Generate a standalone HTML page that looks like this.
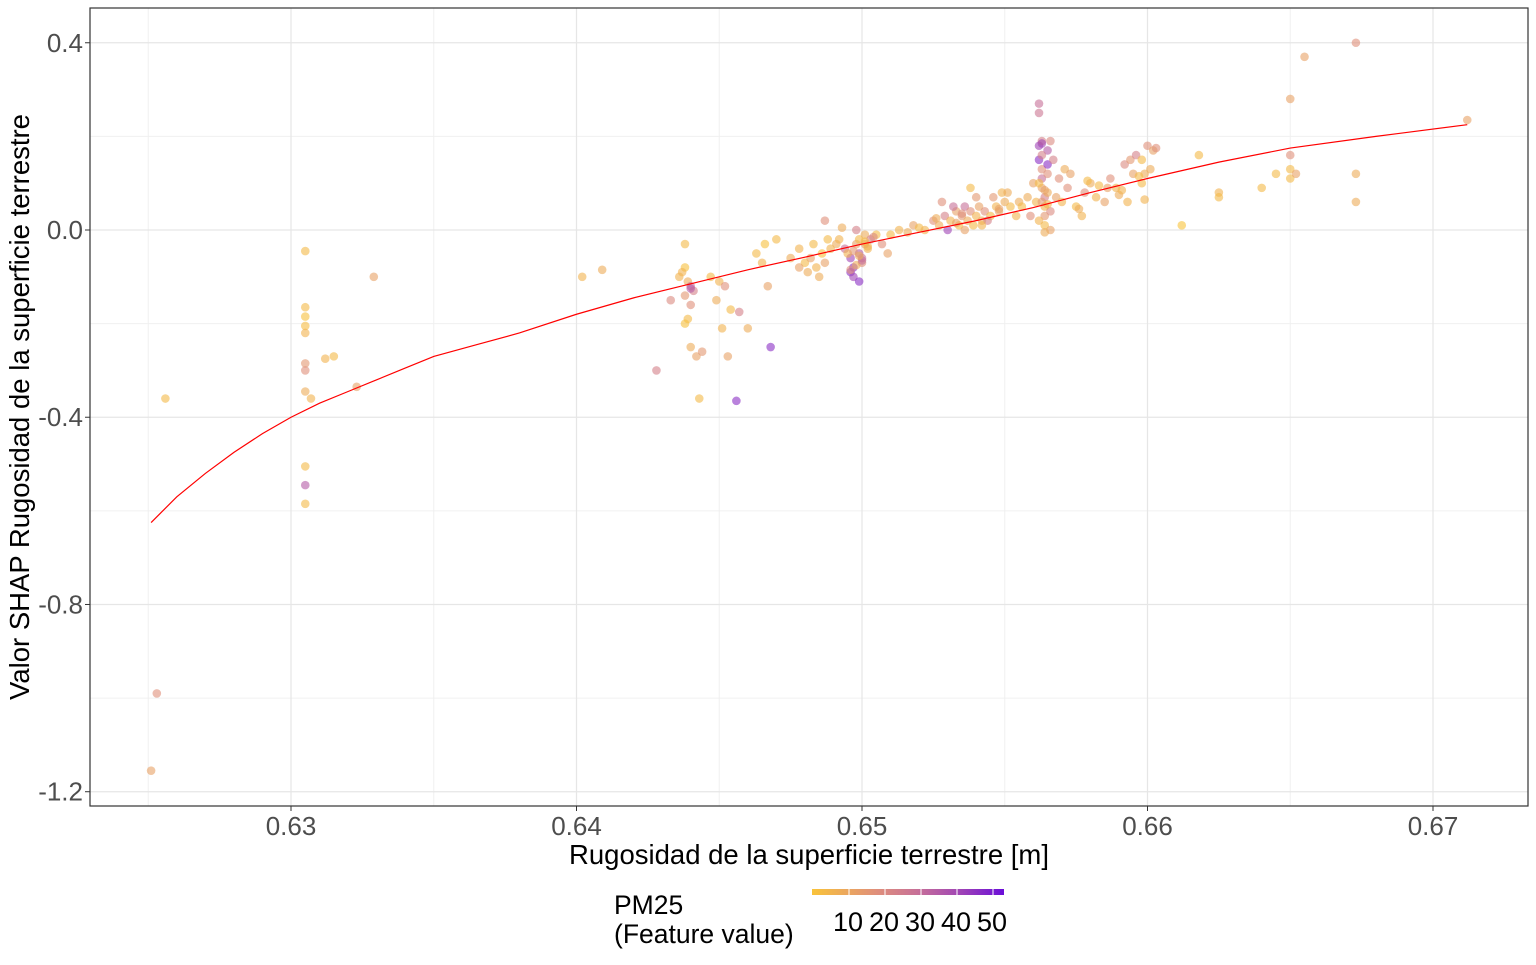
<!DOCTYPE html>
<html><head><meta charset="utf-8"><style>
body{margin:0;background:#fff;font-family:"Liberation Sans",sans-serif}
svg text{font-family:"Liberation Sans",sans-serif}
</style></head><body>
<svg id="c" width="1536" height="960" xmlns="http://www.w3.org/2000/svg"></svg>
<script>
const xTicks=[0.63,0.64,0.65,0.66,0.67];
const yTicks=[0.4,0.0,-0.4,-0.8,-1.2];
const yTickLabels=["0.4","0.0","-0.4","-0.8","-1.2"];
const legendTicks=[10,20,30,40,50];
const ptX=[
0.6251,0.6253,0.6256,
0.6305,0.6305,0.6305,0.6305,0.6305,0.6305,0.6305,0.6305,0.6305,0.6305,0.6305,
0.6312,0.6315,0.6307,0.6323,0.6329,0.6402,0.6409,
0.6438,0.6438,0.6437,0.6439,0.6440,0.6441,0.6438,0.6440,0.6439,0.6438,0.6440,0.6442,0.6443,0.6440,0.6428,0.6433,0.6436,0.6444,
0.6447,0.6450,0.6452,0.6449,0.6454,0.6451,0.6453,0.6456,0.6457,0.6468,0.6460,
0.6463,0.6465,0.6466,0.6467,0.6470,0.6475,0.6478,0.6480,0.6481,0.6482,0.6483,0.6484,0.6485,0.6486,0.6487,0.6488,0.6489,0.6478,0.6491,0.6487,
0.6492,0.6494,0.6496,0.6497,0.6498,0.6499,0.6500,0.6501,0.6502,0.6496,
0.6498,0.6499,0.6497,0.6500,0.6501,0.6495,0.6498,0.6503,0.6505,0.6507,
0.6509,0.6499,0.6497,0.6502,0.6504,0.6493,0.6500,0.6496,0.6499,0.6501,
0.6510,0.6513,0.6516,0.6518,0.6520,0.6522,0.6525,0.6527,0.6529,0.6531,
0.6533,0.6534,0.6535,0.6536,0.6537,0.6538,0.6539,0.6540,0.6541,0.6542,
0.6543,0.6545,0.6547,0.6548,0.6550,0.6552,0.6554,0.6555,0.6530,0.6532,
0.6536,0.6540,0.6544,0.6528,0.6538,0.6549,0.6526,0.6533,0.6542,0.6546,
0.6551,0.6535,0.6548,
0.6556,0.6558,0.6559,0.6560,0.6561,0.6562,0.6562,0.6562,0.6562,0.6563,
0.6563,0.6563,0.6563,0.6564,0.6564,0.6564,0.6564,0.6565,0.6565,0.6565,
0.6566,0.6566,0.6562,0.6563,0.6564,0.6565,0.6563,0.6564,0.6562,0.6566,
0.6567,0.6568,0.6569,0.6570,0.6571,0.6572,0.6563,0.6565,
0.6573,0.6575,0.6577,0.6578,0.6580,0.6582,0.6583,0.6585,0.6587,0.6589,
0.6590,0.6592,0.6594,0.6595,0.6596,0.6598,0.6599,0.6600,0.6601,0.6602,
0.6598,0.6591,0.6576,0.6579,0.6586,0.6593,0.6599,0.6597,0.6603,
0.6612,0.6618,0.6625,0.6625,0.6640,0.6645,0.6650,0.6650,0.6650,0.6650,0.6652,0.6655,0.6673,0.6673,0.6673,0.6712];
const ptY=[
-1.155,-0.99,-0.36,
-0.045,-0.165,-0.185,-0.205,-0.22,-0.285,-0.30,-0.345,-0.505,-0.545,-0.585,
-0.275,-0.27,-0.36,-0.335,-0.10,-0.10,-0.085,
-0.03,-0.08,-0.09,-0.11,-0.12,-0.13,-0.14,-0.16,-0.19,-0.20,-0.25,-0.27,-0.36,-0.125,-0.30,-0.15,-0.10,-0.26,
-0.10,-0.11,-0.12,-0.15,-0.17,-0.21,-0.27,-0.365,-0.175,-0.25,-0.21,
-0.05,-0.07,-0.03,-0.12,-0.02,-0.06,-0.04,-0.07,-0.09,-0.06,-0.03,-0.08,-0.10,-0.05,-0.07,-0.02,-0.04,-0.08,-0.03,0.02,
-0.02,-0.04,-0.06,-0.08,-0.03,-0.05,-0.07,-0.01,-0.04,-0.09,
0.0,-0.02,-0.10,-0.06,-0.03,-0.05,-0.075,-0.02,-0.01,-0.03,
-0.05,-0.11,-0.045,-0.035,-0.015,0.005,-0.065,-0.085,-0.055,-0.025,
-0.01,0.0,-0.005,0.01,0.005,0.0,0.02,0.01,0.03,0.02,
0.04,0.01,0.03,0.05,0.02,0.04,0.01,0.03,0.05,0.02,
0.04,0.03,0.05,0.04,0.06,0.05,0.03,0.06,0.0,0.05,
0.0,0.07,0.02,0.06,0.09,0.08,0.025,0.015,0.01,0.07,
0.08,0.035,0.045,
0.05,0.07,0.03,0.10,0.06,0.27,0.25,0.18,0.15,0.19,
0.13,0.11,0.09,0.07,0.05,0.03,0.01,0.17,0.12,0.08,
0.0,0.04,0.02,0.06,0.085,0.14,0.16,-0.005,0.10,0.19,
0.15,0.07,0.11,0.06,0.13,0.09,0.185,0.055,
0.12,0.05,0.03,0.08,0.10,0.07,0.095,0.06,0.11,0.09,
0.075,0.14,0.15,0.12,0.16,0.10,0.065,0.18,0.13,0.17,
0.15,0.085,0.045,0.105,0.09,0.06,0.12,0.115,0.175,
0.01,0.16,0.08,0.07,0.09,0.12,0.28,0.16,0.13,0.11,0.12,0.37,0.40,0.12,0.06,0.235];
const ptPM=[
15,20,8,
8,8,6,7,10,18,20,12,8,35,8,
10,8,10,15,15,10,12,
8,6,10,12,30,25,18,20,8,6,12,15,8,35,25,22,10,18,
8,10,20,12,8,10,15,45,25,45,12,
8,10,6,15,8,12,10,8,12,15,8,10,12,6,15,8,10,15,12,20,
10,30,40,45,15,35,20,12,10,45,
25,8,40,30,15,10,12,25,8,20,
15,45,18,10,22,12,30,20,12,8,
8,10,12,15,8,10,20,12,25,10,
15,8,18,30,12,20,8,10,15,12,
20,8,10,15,12,8,10,12,40,30,
15,18,25,20,8,10,12,15,10,18,
12,20,15,
8,12,20,15,10,30,28,40,45,25,
20,30,15,25,10,18,8,35,20,12,
15,22,10,18,15,45,25,12,8,22,
25,15,20,10,12,20,40,10,
15,8,10,20,12,10,8,15,20,10,
12,22,18,15,25,8,10,20,12,15,
8,10,12,8,15,10,12,8,20,
5,8,10,8,8,8,15,20,8,8,15,15,20,12,12,15];
const lineX=[0.6251,0.626,0.627,0.628,0.629,0.630,0.631,0.632,0.633,0.634,0.635,0.6365,0.638,0.64,0.642,0.644,0.646,0.648,0.65,0.652,0.654,0.656,0.658,0.66,0.6625,0.665,0.668,0.6712];
const lineY=[-0.625,-0.57,-0.52,-0.475,-0.435,-0.40,-0.37,-0.345,-0.32,-0.295,-0.27,-0.245,-0.22,-0.18,-0.145,-0.115,-0.085,-0.058,-0.03,-0.005,0.02,0.048,0.08,0.11,0.145,0.175,0.2,0.225];

const NS="http://www.w3.org/2000/svg";
const svg=document.getElementById('c');
const L=90,R=1528,T=8,B=806;
const sx=v=>291+(v-0.63)*28550;
const sy=v=>230-v*468.1;
function mk(tag,attrs,parent){const e=document.createElementNS(NS,tag);for(const k in attrs)e.setAttribute(k,attrs[k]);(parent||svg).appendChild(e);return e;}
function col(p){const stops=[[5,[249,195,58]],[20,[224,144,122]],[30,[199,112,152]],[40,[160,69,181]],[52,[106,13,216]]];
 for(let i=0;i<stops.length-1;i++){const a=stops[i],b=stops[i+1];if(p<=b[0]){const t=Math.max(0,(p-a[0])/(b[0]-a[0]));return `rgb(${a[1].map((c,j)=>Math.round(c+(b[1][j]-c)*t)).join(',')})`;}}return 'rgb(106,13,216)';}
[0.625,0.635,0.645,0.655,0.665].forEach(v=>{const g=mk('line',{x1:sx(v),x2:sx(v),y1:T,y2:B,stroke:'#f0f0f0','stroke-width':1});

});
[0.2,-0.2,-0.6,-1.0].forEach(v=>{const g=mk('line',{x1:L,x2:R,y1:sy(v),y2:sy(v),stroke:'#f0f0f0','stroke-width':1});

});
xTicks.forEach(v=>{const g=mk('line',{x1:sx(v),x2:sx(v),y1:T,y2:B,stroke:'#e6e6e6','stroke-width':1.2});


const tk=mk('line',{x1:sx(v),x2:sx(v),y1:B,y2:B+5,stroke:'#333'});


const t=mk('text',{x:sx(v),y:B+29,'text-anchor':'middle','font-size':26,fill:'#4d4d4d'});t.textContent=v.toFixed(2);

});
yTicks.forEach((v,i)=>{const g=mk('line',{x1:L,x2:R,y1:sy(v),y2:sy(v),stroke:'#e6e6e6','stroke-width':1.2});


const tk=mk('line',{x1:L-5,x2:L,y1:sy(v),y2:sy(v),stroke:'#333'});


const t=mk('text',{x:L-7,y:sy(v)+9,'text-anchor':'end','font-size':26,fill:'#4d4d4d'});t.textContent=yTickLabels[i];

});
ptX.forEach((x,i)=>{const c=mk('circle',{cx:sx(x),cy:sy(ptY[i]),r:4.3,fill:col(ptPM[i]),'fill-opacity':0.6});

});
const pl=mk('polyline',{points:lineX.map((x,i)=>sx(x)+','+sy(lineY[i])).join(' '),fill:'none',stroke:'#ff0000','stroke-width':1.2});


const fr=mk('rect',{x:L,y:T,width:R-L,height:B-T,fill:'none',stroke:'#333','stroke-width':1.2});


const xt=mk('text',{x:809,y:864,'text-anchor':'middle','font-size':27.5,fill:'#000'});xt.textContent='Rugosidad de la superficie terrestre [m]';


const yt=mk('text',{x:0,y:0,'text-anchor':'middle','font-size':27.5,fill:'#000',transform:'translate(29,407) rotate(-90)'});yt.textContent='Valor SHAP Rugosidad de la superficie terrestre';


const lg=mk('g',{});


const l1=mk('text',{x:614,y:914,'font-size':26.5,fill:'#000'},lg);l1.textContent='PM25';


const l2=mk('text',{x:614,y:943,'font-size':26.5,fill:'#000'},lg);l2.textContent='(Feature value)';


const defs=mk('defs',{});const gr=mk('linearGradient',{id:'lgd',x1:0,x2:1,y1:0,y2:0},defs);
[[0,'#F9C33A'],[0.33,'#E0907A'],[0.55,'#C77098'],[0.77,'#A045B5'],[1,'#6A0DD8']].forEach(s=>mk('stop',{offset:s[0],'stop-color':s[1]},gr));
const bar=mk('rect',{x:812,y:889,width:192,height:6,fill:'url(#lgd)'},lg);


const lx=v=>848+(v-10)*(992-848)/40;
legendTicks.forEach(v=>{const tk=mk('line',{x1:lx(v)+1,x2:lx(v)+1,y1:889,y2:895,stroke:'#fff','stroke-width':1},lg);


const t=mk('text',{x:lx(v),y:931,'text-anchor':'middle','font-size':27,fill:'#000'},lg);t.textContent=v;

});
</script>
</body></html>
